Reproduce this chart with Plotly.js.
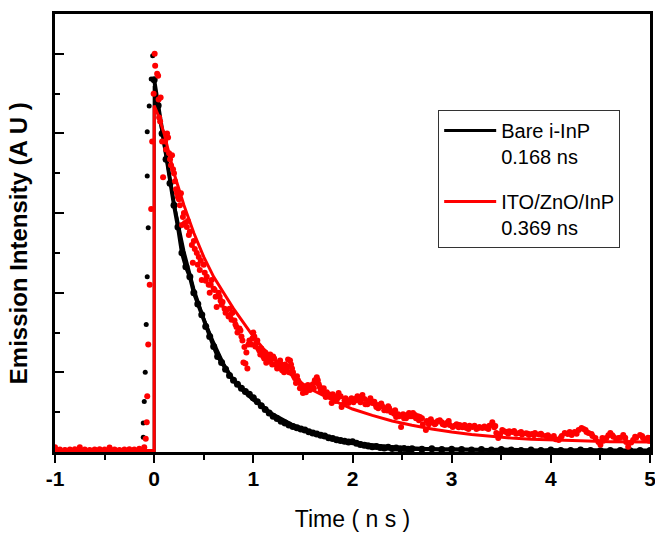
<!DOCTYPE html>
<html>
<head>
<meta charset="utf-8">
<script src="https://cdn.plot.ly/plotly-3.0.1.min.js"></script>
<style>html,body{margin:0;padding:0;background:#fff;}#chart{width:655px;height:533px;}</style>
</head>
<body>
<div id="chart"></div>
<script>
// ---- Data ----
// Bare i-InP: baseline and rising edge (markers only)
const blackRiseX = [-1.0,-0.95,-0.9,-0.85,-0.8,-0.75,-0.7,-0.65,-0.6,-0.55,-0.5,-0.45,-0.4,-0.35,-0.3,-0.25,-0.2,-0.15,
  -0.11,-0.11,-0.10,-0.09,-0.08,-0.07,-0.06,-0.07,-0.07,-0.05,-0.03,-0.015];
const blackRiseY = [0.005,0.004,0.005,0.006,0.004,0.005,0.005,0.004,0.006,0.005,0.004,0.005,0.006,0.004,0.005,0.005,0.006,0.007,
  0.037,0.073,0.127,0.20,0.32,0.44,0.563,0.693,0.804,0.869,0.937,0.995];
// Bare i-InP: decay data
const blackDecayX = [0.00,0.04,0.08,0.12,0.16,0.20,0.24,0.28,0.32,0.36,0.40,0.44,0.48,0.52,0.56,0.60,0.64,0.68,0.72,0.76,
  0.80,0.84,0.88,0.92,0.96,1.00,1.04,1.08,1.12,1.16,1.20,1.24,1.28,1.32,1.36,1.40,1.44,1.48,1.52,1.56,
  1.60,1.64,1.68,1.72,1.76,1.80,1.84,1.88,1.92,1.96,2.00,2.04,2.08,2.12,2.16,2.20,2.24,2.28,2.32,2.36,
  2.40,2.44,2.48,2.52,2.56,2.60,2.70,2.80,2.90,3.00,3.10,3.20,3.30,3.40,3.50,3.60,3.70,3.80,3.90,4.00,
  4.10,4.20,4.30,4.40,4.50,4.60,4.70,4.80,4.90,5.00];
const blackDecayY = [0.935,0.87,0.80,0.735,0.675,0.62,0.565,0.50,0.465,0.44,0.40,0.372,0.345,0.315,0.29,0.265,0.24,0.225,0.208,0.192,
  0.180,0.170,0.160,0.152,0.145,0.136,0.126,0.116,0.107,0.098,0.090,0.084,0.077,0.073,0.068,0.064,0.061,0.058,0.055,0.051,
  0.048,0.045,0.042,0.040,0.036,0.034,0.031,0.029,0.027,0.025,0.026,0.022,0.019,0.017,0.015,0.013,0.014,0.011,0.010,0.012,
  0.009,0.010,0.008,0.009,0.007,0.008,0.007,0.008,0.006,0.007,0.006,0.005,0.006,0.005,0.006,0.005,0.004,0.005,0.004,0.005,
  0.004,0.004,0.005,0.004,0.003,0.004,0.004,0.003,0.004,0.004];
// Bare i-InP: fitted curve
const blackFitX = [-1.0,0.0,0.0,0.1,0.2,0.3,0.4,0.5,0.6,0.7,0.8,0.9,1.0,1.2,1.4,1.6,1.8,2.0,2.2,2.5,3.0,3.5,4.0,5.0];
const blackFitY = [0.0,0.0,0.92,0.77,0.625,0.505,0.41,0.335,0.275,0.222,0.18,0.152,0.13,0.095,0.068,0.049,0.035,0.025,0.018,0.011,0.006,0.004,0.003,0.002];

// ITO/ZnO/InP: measured data
const redX = [-1.00,-0.95,-0.90,-0.85,-0.80,-0.75,-0.70,-0.65,-0.60,-0.55,-0.50,-0.45,-0.40,-0.35,-0.30,-0.25,-0.20,-0.15,-0.10,
  -0.085,-0.075,-0.07,-0.06,-0.045,-0.03,-0.02,-0.005,0.005,0.01,0.03,0.04,0.045,0.05,0.06,0.065,0.09,0.11,0.13,0.14,0.16,0.17,0.18,
  0.20,0.21,0.22,0.23,0.25,0.26,0.27,0.28,0.29,0.31,0.33,0.34,0.36,0.38,0.39,0.41,0.43,0.45,0.46,0.48,0.50,0.51,0.53,0.55,0.56,
  0.58,0.60,0.61,0.63,0.65,0.66,0.68,0.69,0.71,0.73,0.75,0.76,0.78,0.79,0.81,0.83,0.84,0.86,0.88,0.89,0.91,0.92,0.93,0.94,0.96,
  0.98,1.00,1.01,1.03,1.05,1.07,1.09,1.11,1.13,1.15,1.18,1.20,1.22,1.25,1.27,1.29,1.30,1.32,1.33,1.35,1.37,1.39,1.41,1.43,1.45,
  1.47,1.50,1.52,1.54,1.57,1.60,1.62,1.64,1.66,1.67,1.70,1.73,1.76,1.79,1.81,1.84,1.86,1.89,1.92,1.94,1.96,1.99,2.03,2.05,2.07,
  2.09,2.10,2.13,2.16,2.18,2.20,2.22,2.24,2.27,2.30,2.33,2.35,2.37,2.40,2.42,2.44,2.47,2.49,2.52,2.55,2.58,2.61,2.64,2.66,2.68,
  2.71,2.74,2.77,2.81,2.84,2.88,2.91,2.95,2.98,3.01,3.05,3.08,3.11,3.15,3.18,3.21,3.25,3.28,3.31,3.35,3.38,3.41,3.43,3.45,3.47,
  3.49,3.51,3.55,3.58,3.61,3.65,3.68,3.71,3.75,3.78,3.81,3.84,3.88,3.91,3.95,3.98,4.01,4.05,4.08,4.11,4.14,4.17,4.21,4.24,4.28,
  4.31,4.33,4.36,4.38,4.42,4.45,4.48,4.50,4.53,4.56,4.58,4.60,4.63,4.66,4.70,4.73,4.76,4.78,4.81,4.83,4.86,4.90,4.93,4.96,4.98,5.00];
const redY = [0.012,0.006,0.005,0.006,0.007,0.012,0.006,0.005,0.006,0.007,0.006,0.011,0.006,0.005,0.006,0.007,0.006,0.008,0.012,
  0.033,0.075,0.14,0.27,0.42,0.61,0.78,0.90,1.00,0.97,0.95,0.945,0.885,0.84,0.83,0.89,0.69,0.78,0.80,0.79,0.735,0.72,0.745,
  0.70,0.68,0.66,0.65,0.635,0.62,0.65,0.57,0.59,0.575,0.565,0.58,0.553,0.52,0.475,0.51,0.50,0.49,0.457,0.432,0.47,0.45,0.44,0.42,0.40,
  0.432,0.41,0.407,0.364,0.40,0.39,0.37,0.377,0.36,0.357,0.34,0.36,0.332,0.35,0.33,0.314,0.30,0.31,0.29,0.28,0.264,0.222,0.25,0.21,0.28,
  0.27,0.30,0.29,0.274,0.26,0.245,0.25,0.235,0.224,0.24,0.232,0.24,0.22,0.225,0.23,0.205,0.214,0.22,0.206,0.232,0.23,0.21,0.19,0.173,0.18,
  0.16,0.148,0.165,0.16,0.156,0.17,0.18,0.188,0.17,0.163,0.15,0.138,0.145,0.123,0.135,0.14,0.148,0.113,0.13,0.125,0.123,0.135,0.13,0.14,0.13,
  0.138,0.143,0.12,0.128,0.135,0.123,0.126,0.113,0.118,0.115,0.11,0.104,0.11,0.102,0.096,0.088,0.09,0.063,0.085,0.093,0.09,0.098,0.085,0.09,0.088,
  0.07,0.055,0.07,0.075,0.072,0.08,0.07,0.073,0.068,0.063,0.07,0.068,0.062,0.06,0.066,0.063,0.058,0.063,0.06,0.06,0.066,0.075,0.062,0.048,0.035,
  0.045,0.055,0.05,0.052,0.05,0.046,0.048,0.044,0.047,0.043,0.045,0.048,0.044,0.043,0.04,0.038,0.035,0.032,0.03,0.04,0.048,0.045,0.043,0.05,0.055,
  0.06,0.058,0.05,0.048,0.04,0.035,0.025,0.018,0.028,0.035,0.042,0.048,0.038,0.03,0.036,0.043,0.025,0.013,0.024,0.03,0.036,0.043,0.035,0.03,0.036,0.035];
// ITO/ZnO/InP: further measured points in the dense band
const redExtraX = [0.08,0.12,0.15,0.19,0.24,0.30,0.35,0.40,0.44,0.47,0.52,0.57,0.62,0.67,0.72,0.77,0.82,0.87,0.90,0.95,0.99,
  1.02,1.04,1.06,1.08,1.10,1.12,1.14,1.16,1.17,1.19,1.21,1.24,1.26,1.28,1.31,1.34,1.36,1.38,1.40,1.42,1.44,1.46,1.48,
  1.51,1.53,1.55,1.58,1.61,1.63,1.65,1.68,1.71,1.74,1.77,1.80,1.83,1.85,1.88,1.91,1.93,1.97,2.01,2.04,2.08,2.12,2.15,
  2.19,2.23,2.26,2.29,2.32,2.36,2.39,2.43,2.46,2.51,2.54,2.57,2.60,2.63,2.67,2.70,2.75,2.79,2.83,2.86,2.90,2.93,2.97,
  3.03,3.07,3.13,3.17,3.23,3.27,3.33,3.37,3.44,3.53,3.57,3.63,3.70,3.77,3.83,3.90,3.97,4.03,4.10,4.19,4.26,4.35,4.41,
  4.52,4.62,4.68,4.75,4.85,4.92,4.99];
const redExtraY = [0.78,0.76,0.75,0.71,0.64,0.60,0.545,0.53,0.47,0.48,0.43,0.42,0.39,0.38,0.35,0.345,0.32,0.305,0.225,0.27,0.285,
  0.265,0.28,0.255,0.26,0.24,0.25,0.23,0.228,0.245,0.22,0.235,0.21,0.215,0.22,0.20,0.215,0.20,0.22,0.20,0.185,0.19,0.175,0.17,
  0.16,0.15,0.168,0.165,0.16,0.175,0.18,0.155,0.16,0.15,0.14,0.145,0.128,0.135,0.14,0.12,0.135,0.13,0.125,0.135,0.125,0.133,0.12,
  0.128,0.12,0.11,0.122,0.105,0.115,0.10,0.105,0.095,0.095,0.085,0.098,0.09,0.093,0.08,0.085,0.078,0.082,0.07,0.078,0.075,0.068,0.078,
  0.066,0.062,0.068,0.058,0.066,0.06,0.064,0.058,0.065,0.052,0.046,0.053,0.05,0.046,0.042,0.046,0.042,0.04,0.036,0.05,0.046,0.055,0.045,
  0.035,0.042,0.035,0.036,0.038,0.04,0.028];
// ITO/ZnO/InP: fitted curve
const redFitX = [-1.0,0.0,0.0,0.05,0.1,0.2,0.3,0.4,0.5,0.6,0.7,0.8,0.9,1.0,1.1,1.2,1.3,1.4,1.5,1.6,1.8,2.0,2.2,2.4,2.6,2.8,3.0,3.2,3.4,3.6,3.8,4.0,4.3,4.6,5.0];
const redFitY = [0.004,0.004,0.87,0.84,0.80,0.70,0.62,0.55,0.49,0.44,0.40,0.36,0.325,0.29,0.26,0.235,0.21,0.19,0.17,0.155,0.13,0.108,0.092,0.078,0.067,0.058,0.05,0.044,0.039,0.035,0.032,0.03,0.028,0.026,0.025];

const seriesNames = ['Bare i-InP<br>0.168 ns', 'ITO/ZnO/InP<br>0.369 ns'];
const xTickVals = [-1,0,1,2,3,4,5];
const xTickText = ['-1','0','1','2','3','4','5'];
const xTitle = 'Time ( n s )';
const yTitle = 'Emission Intensity (A U )';

const FONT = 'Liberation Sans, Arial, sans-serif';
const BLACK = '#000000';
const RED = '#ff0000';

const traces = [
  {x: blackRiseX, y: blackRiseY, mode: 'markers', marker: {color: BLACK, size: 5}, showlegend: false, hoverinfo: 'skip'},
  {x: blackDecayX, y: blackDecayY, mode: 'lines+markers', line: {color: BLACK, width: 4}, marker: {color: BLACK, size: 7}, showlegend: false, hoverinfo: 'skip'},
  {x: blackFitX, y: blackFitY, mode: 'lines', line: {color: BLACK, width: 3}, name: seriesNames[0], legendgroup: 'a', showlegend: true},
  {x: redX.concat(redExtraX), y: redY.concat(redExtraY), mode: 'markers', marker: {color: RED, size: 6}, showlegend: false, hoverinfo: 'skip'},
  {x: redFitX, y: redFitY, mode: 'lines', line: {color: RED, width: 3}, name: seriesNames[1], legendgroup: 'b', showlegend: true}
];

const layout = {
  width: 655, height: 533,
  margin: {l: 55, r: 5, t: 14, b: 81, pad: 0},
  paper_bgcolor: '#fff', plot_bgcolor: '#fff',
  font: {family: FONT, color: '#000'},
  showlegend: true,
  legend: {
    x: 0.644, y: 0.781, xanchor: 'left', yanchor: 'top',
    bgcolor: '#fff', bordercolor: '#333', borderwidth: 1,
    font: {family: FONT, size: 20, color: '#000'},
    valign: 'top', tracegroupgap: 16, traceorder: 'grouped',
    itemwidth: 52
  },
  xaxis: {
    range: [-1, 5], autorange: false,
    tickmode: 'array', tickvals: xTickVals, ticktext: xTickText,
    ticks: 'outside', ticklen: 8, tickwidth: 2, tickcolor: '#000',
    minor: {dtick: 0.5, ticks: 'outside', ticklen: 5, tickwidth: 2, tickcolor: '#000', showgrid: false},
    showline: true, linewidth: 3, linecolor: '#000', mirror: true,
    showgrid: false, zeroline: false,
    tickfont: {family: FONT, size: 21, weight: 'bold', color: '#000'},
    ticklabelstandoff: -2, ticklabeloverflow: 'allow',
    title: {text: xTitle, font: {family: FONT, size: 23, color: '#000'}, standoff: 22}
  },
  yaxis: {
    range: [0, 1.1], autorange: false,
    dtick: 0.2, tick0: 0,
    ticks: 'inside', ticklen: 9, tickwidth: 2, tickcolor: '#000',
    minor: {dtick: 0.1, ticks: 'inside', ticklen: 5, tickwidth: 2, tickcolor: '#000', showgrid: false},
    showticklabels: false,
    showline: true, linewidth: 3, linecolor: '#000', mirror: true,
    showgrid: false, zeroline: false
  },
  annotations: [{
    text: yTitle, xref: 'paper', yref: 'paper',
    x: -0.062, y: 0.477, xanchor: 'center', yanchor: 'middle',
    textangle: -90, showarrow: false,
    font: {family: FONT, size: 24, weight: 'bold', color: '#000'}
  }]
};

Plotly.newPlot('chart', traces, layout, {displayModeBar: false, staticPlot: true});
</script>
</body>
</html>
